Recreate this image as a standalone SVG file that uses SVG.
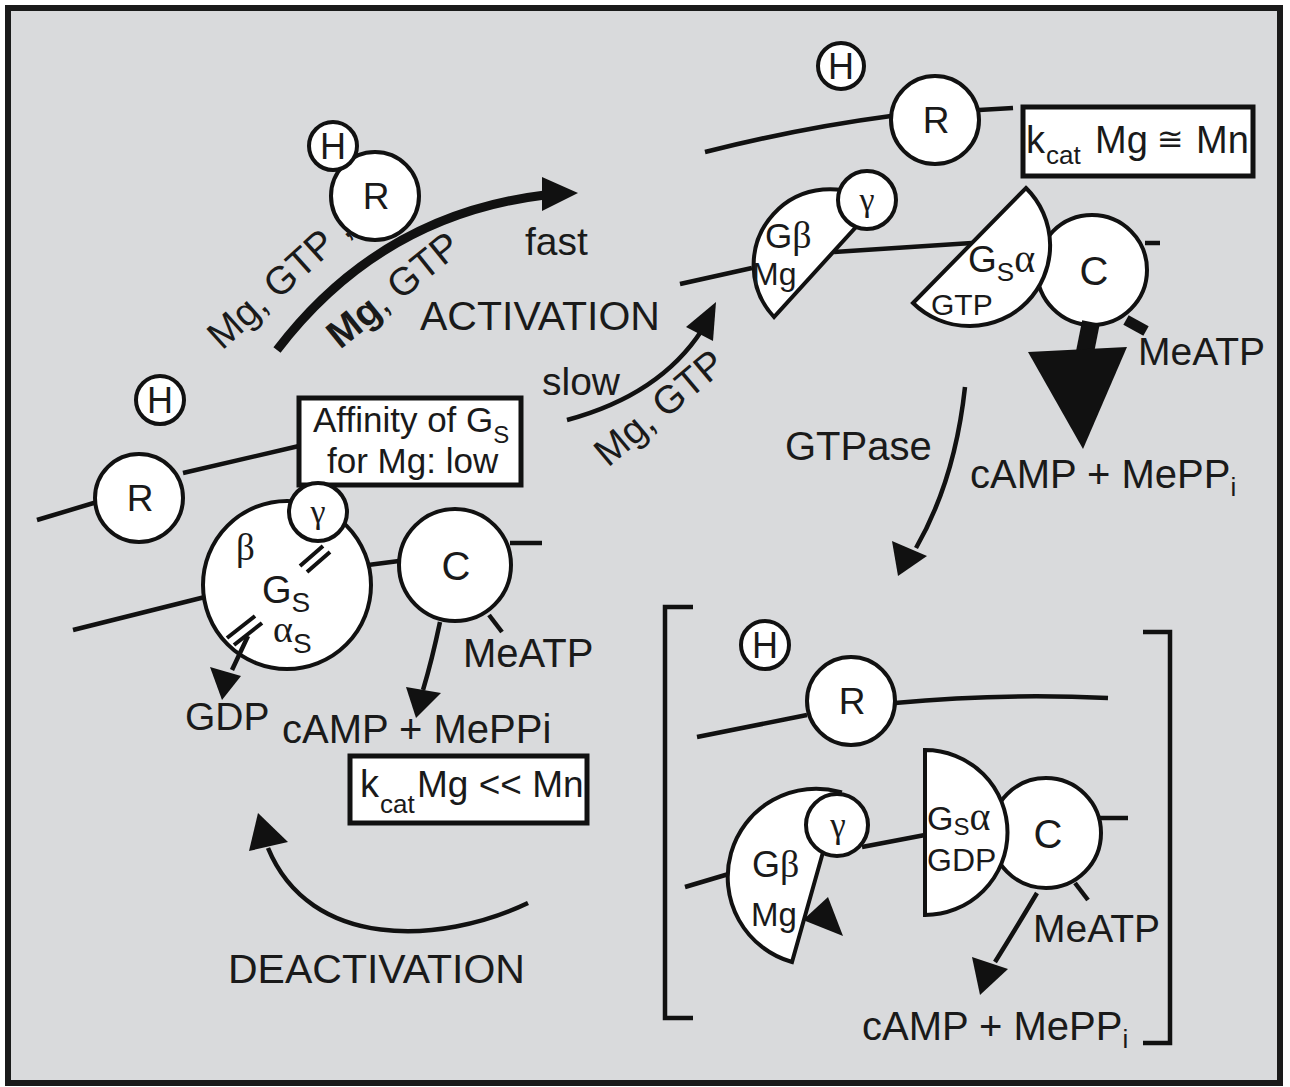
<svg xmlns="http://www.w3.org/2000/svg" width="1290" height="1087" viewBox="0 0 1290 1087" font-family="'Liberation Sans', Arial, sans-serif" font-size="39">
<style>
.bg{fill:#d9dadc;stroke:#1a1a1a;stroke-width:6}
.ln{fill:none;stroke:#111;stroke-width:4.5;stroke-linecap:butt}
.sh{fill:#fff;stroke:#111;stroke-width:4}
.bx{fill:#fff;stroke:#111;stroke-width:5}
.ah{fill:#111;stroke:none}
text{fill:#1a1a1a}
.c{text-anchor:middle}
.gk{font-family:"Liberation Serif","Times New Roman",serif}
</style>
<rect class="bg" x="8" y="8" width="1272" height="1075"/>

<!-- top-left: hormone-receptor -->
<g id="tl-r">
<circle class="sh" cx="375" cy="196" r="44"/>
<text class="c" x="376" y="209" font-size="37">R</text>
</g>
<g id="tl-h">
<circle class="sh" cx="333" cy="146" r="24"/>
<text class="c" x="333" y="159" font-size="36">H</text>
</g>

<!-- top-right: active state -->
<g id="tr-h"><circle class="sh" cx="841" cy="66" r="23"/><text class="c" x="841" y="79" font-size="36">H</text></g>
<g id="tr-membrane">
<path class="ln" d="M705,152 Q800,128 891,116"/>
<path class="ln" d="M979,110 L1013,108"/>
<path class="ln" d="M680,284 L752,268"/>
<path class="ln" d="M834,252 L972,243"/>
<path class="ln" d="M1145,243 L1160,243"/>
</g>
<g id="tr-r"><circle class="sh" cx="935" cy="120" r="44"/><text class="c" x="936" y="133" font-size="37">R</text></g>
<g id="tr-kcat">
<rect class="bx" x="1023" y="107" width="230" height="69"/>
<text x="1026" y="153" font-size="38">k</text>
<text x="1046" y="164" font-size="26">cat</text>
<text x="1095" y="153" font-size="38">Mg</text>
<text x="1157" y="150" font-size="32" font-family="'DejaVu Sans', sans-serif">≅</text>
<text x="1196" y="153" font-size="38">Mn</text>
</g>
<g id="tr-gb">
<path class="sh" d="M774,317 A76,76 0 0 1 876,205 Z"/>
<text x="765" y="248" font-size="35">G<tspan font-family="'Liberation Serif', serif" font-size="38">β</tspan></text>
<text x="752" y="285" font-size="32">Mg</text>
</g>
<g id="tr-gamma"><circle class="sh" cx="867" cy="200" r="29"/><text class="c gk" x="867" y="211" font-size="34">γ</text></g>
<g id="tr-c"><circle class="sh" cx="1092" cy="270" r="55"/><text class="c" x="1094" y="285" font-size="40">C</text></g>
<g id="tr-gsa">
<path class="sh" d="M913,303 A80,80 0 0 0 1026,188 Z"/>
<text x="968" y="272" font-size="37">G<tspan font-size="26" dy="9">S</tspan><tspan font-family="'Liberation Serif', serif" font-size="40" dy="-9">α</tspan></text>
<text x="931" y="315" font-size="30">GTP</text>
</g>
<g id="tr-products">
<path class="ln" d="M1126,320 L1146,331" style="stroke-width:11"/>
<path class="ln" d="M1091,322 L1085,352" style="stroke-width:18"/>
<polygon class="ah" points="1028,352 1127,347 1083,449"/>
<text x="1138" y="365">MeATP</text>
<text x="970" y="488" font-size="40">cAMP + MePP<tspan font-size="26" dy="8">i</tspan></text>
</g>

<!-- left-middle: inactive state -->
<g id="lm-h"><circle class="sh" cx="160" cy="400" r="24"/><text class="c" x="160" y="413" font-size="36">H</text></g>
<g id="lm-membrane">
<path class="ln" d="M37,520 L97,502"/>
<path class="ln" d="M183,473 L299,446"/>
<path class="ln" d="M73,630 L205,597"/>
<path class="ln" d="M368,565 L399,561"/>
<path class="ln" d="M510,543 L542,543"/>
</g>
<g id="lm-r"><circle class="sh" cx="139" cy="498" r="44"/><text class="c" x="140" y="511" font-size="37">R</text></g>
<g id="lm-affinity">
<rect class="bx" x="299" y="398" width="222" height="87"/>
<text x="313" y="432" font-size="35">Affinity of G<tspan font-size="24" dy="11">S</tspan></text>
<text x="327" y="473" font-size="35">for Mg: low</text>
</g>
<g id="lm-gs">
<circle class="sh" cx="287" cy="585" r="84"/>
<text class="gk" x="236" y="560" font-size="37">β</text>
<text x="262" y="603" font-size="38">G<tspan font-size="28" dy="9">S</tspan></text>
<text x="273" y="642" font-size="38"><tspan font-family="'Liberation Serif', serif">α</tspan><tspan font-size="28" dy="11">S</tspan></text>
<path class="ln" d="M300,566 L323,546 M307,572 L330,552" style="stroke-width:4"/>
<path class="ln" d="M227,638 L255,616 M234,645 L262,623" style="stroke-width:4"/>
</g>
<g id="lm-gamma"><circle class="sh" cx="318" cy="512" r="29"/><text class="c gk" x="318" y="523" font-size="34">γ</text></g>
<g id="lm-c"><circle class="sh" cx="455" cy="565" r="56"/><text class="c" x="456" y="580" font-size="40">C</text></g>
<g id="lm-products">
<path class="ln" d="M489,615 L502,632"/>
<text x="463" y="667" font-size="40">MeATP</text>
<text x="185" y="730">GDP</text>
<text x="282" y="743" font-size="40">cAMP + MePPi</text>
</g>
<g id="lm-kcat">
<rect class="bx" x="350" y="756" width="237" height="67"/>
<text x="360" y="797" font-size="38">k</text>
<text x="380" y="813" font-size="26">cat</text>
<text x="417" y="797" font-size="37">Mg &lt;&lt; Mn</text>
</g>

<!-- bottom-right: GTPase state -->
<g id="br-bracket">
<path class="ln" d="M693,607 L665,607 L665,1018 L693,1018"/>
<path class="ln" d="M1143,632 L1170,632 L1170,1043 L1143,1043"/>
</g>
<g id="br-h"><circle class="sh" cx="765" cy="645" r="24"/><text class="c" x="765" y="658" font-size="36">H</text></g>
<g id="br-membrane">
<path class="ln" d="M697,737 L807,715"/>
<path class="ln" d="M895,703 Q1000,693 1108,698"/>
<path class="ln" d="M685,887 L732,873"/>
<path class="ln" d="M862,847 L925,835"/>
<path class="ln" d="M1097,818 L1128,818"/>
</g>
<g id="br-r"><circle class="sh" cx="851" cy="701" r="44"/><text class="c" x="852" y="714" font-size="37">R</text></g>
<g id="br-gb">
<path class="sh" d="M792,962 A88,88 0 0 1 840,792 Z"/>
<text x="752" y="877" font-size="36">G<tspan font-family="'Liberation Serif', serif" font-size="38">β</tspan></text>
<text x="751" y="926" font-size="33">Mg</text>
<polygon class="ah" points="803,920 828,897 843,936"/>
</g>
<g id="br-gamma"><circle class="sh" cx="837" cy="825" r="31"/><text class="c gk" x="838" y="837" font-size="35">γ</text></g>
<g id="br-c"><circle class="sh" cx="1046" cy="833" r="55"/><text class="c" x="1048" y="848" font-size="40">C</text></g>
<g id="br-gsa">
<path class="sh" d="M925,750 A82,82 0 0 1 925,915 Z"/>
<text x="927" y="830" font-size="34">G<tspan font-size="24" dy="5">S</tspan><tspan font-family="'Liberation Serif', serif" font-size="40" dy="-5">α</tspan></text>
<text x="927" y="871" font-size="32">GDP</text>
</g>
<g id="br-products">
<path class="ln" d="M1075,883 L1088,900"/>
<text x="1033" y="942">MeATP</text>
<text x="862" y="1040" font-size="40">cAMP + MePP<tspan font-size="26" dy="8">i</tspan></text>
</g>

<!-- connectors -->
<g id="connectors">
<path class="ln" d="M277,350 Q380,215 545,195" style="stroke-width:9"/>
<polygon class="ah" points="542,177 578,193 542,211"/>
<path class="ln" d="M567,420 Q660,395 702,330"/>
<polygon class="ah" points="716,302 713,341 686,327"/>
<path class="ln" d="M965,387 Q955,480 916,548"/>
<polygon class="ah" points="898,576 892,541 927,556"/>
<path class="ln" d="M440,622 Q432,660 423,690"/>
<polygon class="ah" points="416,718 406,687 441,693"/>
<path class="ln" d="M248,636 L232,670"/>
<polygon class="ah" points="222,700 210,667 241,676"/>
<path class="ln" d="M1037,893 Q1015,930 995,962"/>
<polygon class="ah" points="980,995 972,957 1008,969"/>
<path class="ln" d="M528,903 C440,945 310,950 268,848"/>
<polygon class="ah" points="258,813 249,851 288,842"/>
</g>

<!-- pathway labels -->
<g id="labels">
<text transform="rotate(-42 222 351)" x="222" y="351">Mg, GTP ,</text>
<text transform="rotate(-39 340 350)" x="340" y="350"><tspan font-weight="bold">Mg</tspan>, GTP</text>
<text x="525" y="255">fast</text>
<text x="420" y="330" font-size="41">ACTIVATION</text>
<text x="542" y="395">slow</text>
<text transform="rotate(-40 608 468)" x="608" y="468">Mg, GTP</text>
<text x="785" y="460" font-size="40">GTPase</text>
<text x="228" y="983" font-size="41">DEACTIVATION</text>
</g>
</svg>
